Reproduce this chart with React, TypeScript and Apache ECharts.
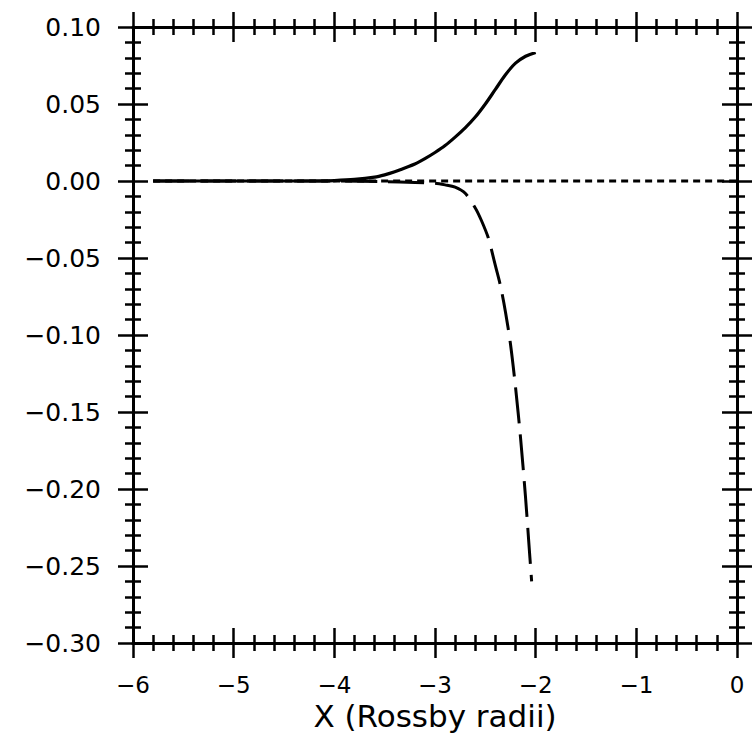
import React, { useEffect, useRef } from "react";
import * as echarts from "echarts";

// ---- data ----
const xTickValues = [-6, -5, -4, -3, -2, -1, 0];
const xTickLabels = ["\u22126", "\u22125", "\u22124", "\u22123", "\u22122", "\u22121", "0"];
const yTickValues = [0.1, 0.05, 0, -0.05, -0.1, -0.15, -0.2, -0.25, -0.3];
const yTickLabels = ["0.10", "0.05", "0.00", "\u22120.05", "\u22120.10", "\u22120.15", "\u22120.20", "\u22120.25", "\u22120.30"];

const solidX = [-5.8, -5.4, -5.0, -4.6, -4.2, -4.0, -3.8, -3.6, -3.5, -3.4, -3.3, -3.2, -3.1, -3.0, -2.9, -2.8, -2.7, -2.6, -2.5, -2.4, -2.3, -2.2, -2.1, -2.0];
const solidY = [0, 0, 0, 0, 0, 0.0003, 0.001, 0.0025, 0.004, 0.006, 0.0085, 0.011, 0.0145, 0.0185, 0.023, 0.0285, 0.0345, 0.0415, 0.05, 0.0595, 0.069, 0.0765, 0.081, 0.0835];

const dashedX = [-5.8, -5.0, -4.0, -3.5, -3.2, -3.0, -2.9, -2.8, -2.7, -2.6, -2.54, -2.47, -2.43, -2.4, -2.35, -2.3, -2.25, -2.2, -2.15, -2.1, -2.07, -2.04];
const dashedY = [0, 0, 0, -0.0005, -0.001, -0.0015, -0.0025, -0.004, -0.008, -0.0175, -0.0255, -0.037, -0.047, -0.055, -0.068, -0.085, -0.106, -0.134, -0.167, -0.206, -0.233, -0.26];

const dottedX = [-5.8, 0];
const dottedY = [0, 0];

const FONT = "DejaVu Sans";

function pairs(xs: number[], ys: number[]) {
  return xs.map((x, i) => [x, ys[i]]);
}

function labelFor(values: number[], labels: string[], v: number) {
  for (let i = 0; i < values.length; i++) {
    if (Math.abs(values[i] - v) < 1e-9) return labels[i];
  }
  return "";
}

export default function App() {
  const ref = useRef<HTMLDivElement>(null);

  useEffect(() => {
    if (!ref.current) return;
    const chart = echarts.init(ref.current, undefined, { renderer: "svg" });

    const lineStyle = { color: "#000", width: 3 };
    const tickStyle = { color: "#000", width: 2.5 };

    const xBase = (position: string, inside: boolean, showLabel: boolean) => ({
      type: "value",
      min: -6,
      max: 0,
      interval: 1,
      position,
      splitLine: { show: false },
      minorSplitLine: { show: false },
      axisLine: { show: true, onZero: false, lineStyle },
      axisTick: { show: true, inside, length: 15, lineStyle: tickStyle },
      minorTick: { show: true, splitNumber: 5, length: 8, lineStyle: tickStyle },
      axisLabel: {
        show: showLabel,
        margin: 30,
        fontFamily: FONT,
        fontSize: 23,
        color: "#000",
        formatter: (v: number) => labelFor(xTickValues, xTickLabels, v),
      },
    });

    const yBase = (position: string, inside: boolean, showLabel: boolean) => ({
      type: "value",
      min: -0.3,
      max: 0.1,
      interval: 0.05,
      position,
      splitLine: { show: false },
      minorSplitLine: { show: false },
      axisLine: { show: true, onZero: false, lineStyle },
      axisTick: { show: true, inside, length: 15, lineStyle: tickStyle },
      minorTick: { show: true, splitNumber: 5, length: 8, lineStyle: tickStyle },
      axisLabel: {
        show: showLabel,
        margin: 32,
        fontFamily: FONT,
        fontSize: 25,
        color: "#000",
        formatter: (v: number) => labelFor(yTickValues, yTickLabels, v),
      },
    });

    const xMain: any = xBase("bottom", false, true);
    xMain.name = "X (Rossby radii)";
    xMain.nameLocation = "middle";
    xMain.nameGap = 56;
    xMain.nameTextStyle = { fontFamily: FONT, fontSize: 31, color: "#000" };

    chart.setOption({
      animation: false,
      backgroundColor: "#fff",
      grid: { left: 133, right: 19, top: 27, bottom: 103, outerBoundsMode: "none" },
      xAxis: [xMain, xBase("bottom", true, false), xBase("top", false, false), xBase("top", true, false)],
      yAxis: [yBase("left", false, true), yBase("left", true, false), yBase("right", false, false), yBase("right", true, false)],
      series: [
        {
          type: "line",
          xAxisIndex: 0,
          yAxisIndex: 0,
          data: pairs(dottedX, dottedY),
          showSymbol: false,
          lineStyle: { color: "#000", width: 3.2, type: [7, 5] },
        },
        {
          type: "line",
          xAxisIndex: 0,
          yAxisIndex: 0,
          data: pairs(dashedX, dashedY),
          showSymbol: false,
          smooth: 0.3,
          lineStyle: { color: "#000", width: 3, type: [36, 11] },
        },
        {
          type: "line",
          xAxisIndex: 0,
          yAxisIndex: 0,
          data: pairs(solidX, solidY),
          showSymbol: false,
          smooth: 0.3,
          lineStyle: { color: "#000", width: 3.2, type: "solid" },
        },
      ],
    });

    return () => chart.dispose();
  }, []);

  return (
    <div
      ref={ref}
      style={{ position: "absolute", left: 0, top: 0, width: 756, height: 746 }}
    />
  );
}
